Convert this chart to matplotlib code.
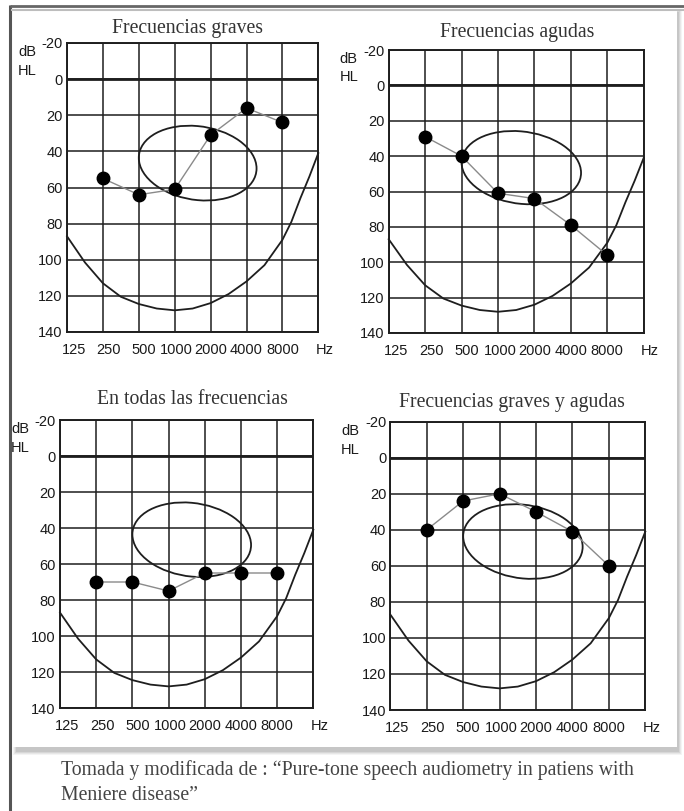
import numpy as np
import matplotlib.pyplot as plt
from matplotlib.patches import Ellipse, Rectangle
from matplotlib.transforms import Affine2D, ScaledTranslation

W, H = 684, 811

# Audiogram data (dB HL) at 250 ... 8000 Hz
freq_labels = ['125', '250', '500', '1000', '2000', '4000', '8000', 'Hz']
test_pos = [1, 2, 3, 4, 5, 6]
titles = ['Frecuencias graves', 'Frecuencias agudas',
          'En todas las frecuencias', 'Frecuencias graves y agudas']
graves = [55, 64, 61, 31, 16, 24]
agudas = [29, 40, 61, 64, 79, 96]
todas = [70, 70, 75, 65, 65, 65]
graves_agudas = [40, 24, 20, 30, 41, 60]
series = [graves, agudas, todas, graves_agudas]

# lower "U" boundary curve
curve_x = [0, 0.5, 1, 1.5, 2, 2.5, 3, 3.5, 4, 4.5, 5, 5.5, 6, 6.25, 6.5, 6.75, 7]
curve_db = [87, 101.5, 113, 120.5, 124.5, 127, 128, 127, 124, 119, 112, 103, 89, 79, 66, 54, 41]

# ellipse (center, half sizes, tilt)
ell_cx, ell_cy, ell_a, ell_b, ell_k = 3.64, 46.5, 1.64, 20.5, 1.8

# axes boxes in pixels: left, right, top, bottom
boxes = [(67, 318.3, 43, 332), (388.7, 643.7, 50, 333),
         (60, 313.3, 420, 708), (390.3, 645.3, 421.7, 710)]
title_pos = [(188, 29), (517, 32), (192, 400), (512, 403)]
xlab_shift = [7, 6, 5, 2, 0, 0, 0, 6]   # px, labels sit a bit right in the scan

ink = '#1e1e1e'
tick_fam = ['Liberation Sans Narrow', 'Liberation Sans']
serif = ['Liberation Serif', 'DejaVu Serif']

fig = plt.figure(figsize=(W / 100, H / 100), dpi=100)
fig.patch.set_facecolor('white')

# page decoration layer
bg = fig.add_axes([0, 0, 1, 1])
bg.set_xlim(0, W)
bg.set_ylim(H, 0)
bg.axis('off')
for i, a in enumerate([0.10, 0.14, 0.20, 0.28]):
    bg.add_patch(Rectangle((13 + i, 9 + i), 669 - 2 * i, 746 - 2 * i,
                           facecolor='#9a9a9a', alpha=a, edgecolor='none'))
bg.add_patch(Rectangle((12, 11), 665, 736, facecolor='white', edgecolor='none'))
bg.plot([10, 10], [5, H], color='#555555', lw=2.2, solid_capstyle='butt')
bg.plot([10, W], [6, 6], color='#666666', lw=2.0, solid_capstyle='butt')
bg.plot([12, W], [9.5, 9.5], color='#bdbdbd', lw=1.5)

bg.text(61, 770, 'Tomada y modificada de : \u201cPure-tone speech audiometry in patiens with',
        family=serif, fontsize=14.25, color='#444444', va='center', ha='left')
bg.text(61, 795, 'Meniere disease\u201d',
        family=serif, fontsize=14.25, color='#444444', va='center', ha='left')

for (l, r, t, b), vals, title, (tx, ty) in zip(boxes, series, titles, title_pos):
    ax = fig.add_axes([l / W, 1 - b / H, (r - l) / W, (b - t) / H])
    ax.set_xlim(0, 7)
    ax.set_ylim(140, -20)
    ax.set_xticks(range(8))
    ax.set_xticklabels(freq_labels)
    ax.set_yticks(range(-20, 141, 20))
    ax.set_yticklabels([str(v) for v in range(-20, 141, 20)])
    ax.tick_params(length=0, colors='#1a1a1a', labelsize=10.5)
    ax.tick_params(axis='x', pad=8)
    ax.tick_params(axis='y', pad=3)
    for lab in ax.get_xticklabels() + ax.get_yticklabels():
        lab.set_family(tick_fam)
    for lab, dx in zip(ax.get_xticklabels(), xlab_shift):
        lab.set_transform(lab.get_transform() + ScaledTranslation(dx / 100, 0, fig.dpi_scale_trans))
    ax.grid(True, color=ink, lw=1.1)
    ax.set_axisbelow(True)
    for s in ax.spines.values():
        s.set_color(ink)
        s.set_linewidth(1.4)
    ax.axhline(0, color=ink, lw=2.0, zorder=1)

    ax.plot(curve_x, curve_db, color=ink, lw=1.3, zorder=2, clip_on=False)
    shear = Affine2D(np.array([[1, 0, ell_cx], [ell_k, 1, ell_cy], [0, 0, 1]]))
    ax.add_patch(Ellipse((0, 0), 2 * ell_a, 2 * ell_b, facecolor='none',
                         edgecolor=ink, lw=1.3, transform=shear + ax.transData, zorder=2))

    ax.plot(test_pos, vals, color='#8a8a8a', lw=1.0, zorder=3)
    ax.plot(test_pos, vals, 'o', color='black', ms=9, zorder=4)

    ax.annotate('dB', xy=(0, -15), xycoords=('axes fraction', 'data'),
                xytext=(-40, 0), textcoords='offset pixels', ha='center', va='center',
                family=tick_fam, fontsize=10.5, color='#1a1a1a')
    ax.annotate('HL', xy=(0, -4.5), xycoords=('axes fraction', 'data'),
                xytext=(-40, 0), textcoords='offset pixels', ha='center', va='center',
                family=tick_fam, fontsize=10.5, color='#1a1a1a')

    bg.text(tx, ty, title, family=serif, fontsize=14.2, color='#333333',
            ha='center', va='center')

fig.savefig('out.png', dpi=100)
